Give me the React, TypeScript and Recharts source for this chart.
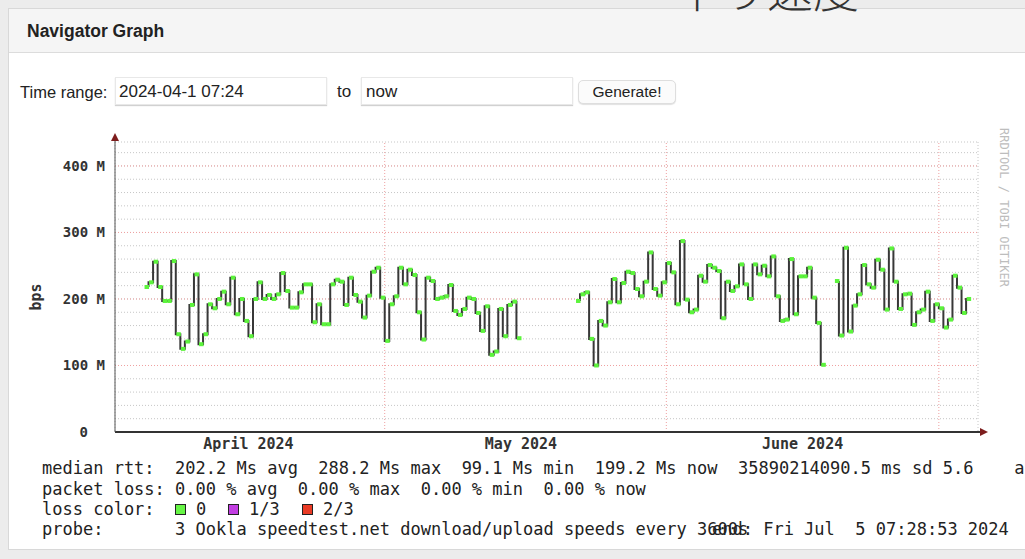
import { LineChart, Line, XAxis, YAxis, CartesianGrid, ReferenceLine } from 'recharts'

// x axis is in hours since 2024-04-01 00:00, samples every 12 hours
const START_HOUR = 7.4 // 2024-04-01 07:24
const END_HOUR = 95 * 24 + 7.48 // 2024-07-05 07:28
const STEP_HOURS = 12
const Y_MAX = 436

// download speed (M bps), one value per 12h slot
const SEG_APRIL_START = 8
const SEG_APRIL = [
  218, 225, 256, 218, 197, 197, 257, 147, 125, 136, 191, 237, 132, 147, 192, 186, 200, 211, 192,
  232, 177, 200, 167, 144, 200, 225, 200, 206, 200, 207, 239, 212, 187, 187, 210, 222, 222,
  165, 192, 162, 162, 222, 229, 226, 191, 232, 206, 196, 172, 205, 241, 247, 202, 137, 192, 204,
  247, 222, 244, 236, 180, 139, 232, 227, 200, 202, 204, 221, 182, 176, 185, 202, 200,
  179, 152, 189, 116, 121, 185, 144, 191, 196, 141,
]
const SEG_MAY_START = 103
const SEG_MAY = [
  197, 207, 210, 140, 100, 167, 160, 195, 230, 195, 224, 241, 239, 215, 204,
  226, 270, 215, 205, 225, 254, 240, 192, 287, 199, 180, 184, 235, 226, 251, 247, 242, 171, 226,
  212, 219, 252, 222, 200, 252, 237, 250, 234, 264, 204, 167, 169, 260, 177, 234, 234, 247,
  202, 164, 101,
]
const SEG_JUNE_START = 160
const SEG_JUNE = [
  227, 145, 277, 151, 190, 207, 251, 222, 217, 259, 244, 184, 276, 226, 185, 207, 208, 161, 180,
  184, 211, 167, 192, 186, 157, 169, 235, 217, 179, 200,
]

const MONTH_LABELS = ['April 2024', 'May 2024', 'June 2024']
const MONTH_LABEL_HOURS = [360, 1080, 1824]
const MONTH_START_HOURS = [720, 1464, 2184]
const Y_LABEL_TICKS = [0, 100, 200, 300, 400]

const DAY_TICKS = Array.from({ length: 95 }, (_, i) => (i + 1) * 24)
const Y_GRID_TICKS = Array.from({ length: 22 }, (_, i) => i * 20)

const SEGMENTS: [number, number[]][] = [
  [SEG_APRIL_START, SEG_APRIL],
  [SEG_MAY_START, SEG_MAY],
  [SEG_JUNE_START, SEG_JUNE],
]

function buildRows() {
  const bySlot = new Map<number, number>()
  SEGMENTS.forEach(([start, values]) => values.forEach((v, i) => bySlot.set(start + i, v)))
  const first = SEGMENTS[0][0]
  const lastSeg = SEGMENTS[SEGMENTS.length - 1]
  const last = lastSeg[0] + lastSeg[1].length - 1
  const rows: { h: number; v: number | null }[] = []
  for (let s = first; s <= last; s++) rows.push({ h: s * STEP_HOURS, v: bySlot.get(s) ?? null })
  return rows
}

const rows = buildRows()

const MONO = '"DejaVu Sans Mono", "Liberation Mono", monospace'
const SANS = '"Liberation Sans", Arial, sans-serif'

const renderBpsTick = (props: any) => {
  const { y, payload } = props
  if (!Y_LABEL_TICKS.includes(payload.value)) return <g />
  const label = payload.value === 0 ? '0' : `${payload.value} M`
  return (
    <text x={payload.value === 0 ? 88 : 105} y={y} dy={5} textAnchor="end" fontFamily={MONO} fontSize={14} fontWeight={700} fill="#333">
      {label}
    </text>
  )
}

const renderMonthTick = (props: any) => {
  const { x, index } = props
  return (
    <text x={x} y={329} textAnchor="middle" fontFamily={MONO} fontSize={15} fontWeight={700} fill="#333">
      {MONTH_LABELS[index]}
    </text>
  )
}

const renderMedian = (props: any) => {
  const { cx, cy, value, index } = props
  if (value == null || cx == null || cy == null) return <g key={index} />
  return <rect key={index} x={cx - 4} y={cy - 2} width={4.5} height={4} fill="#5cf43c" />
}

const LEGEND_BOXES = [
  { label: '0', color: '#66f545', x: 175 },
  { label: '1/3', color: '#c23ee2', x: 228 },
  { label: '2/3', color: '#ea3b25', x: 302 },
]

const textLine = (top: number, text: string, left = 42) => (
  <div
    style={{
      position: 'absolute',
      left,
      top,
      fontFamily: MONO,
      fontSize: 17,
      lineHeight: '20px',
      whiteSpace: 'pre',
      color: '#222',
    }}
  >
    {text}
  </div>
)

export default function App() {
  return (
    <div
      style={{
        position: 'absolute',
        left: 0,
        top: 0,
        width: 1025,
        height: 559,
        overflow: 'hidden',
        background: '#ececec',
        fontFamily: SANS,
        color: '#222',
      }}
    >
      {/* panel */}
      <div style={{ position: 'absolute', left: 8, top: 8, width: 1040, height: 540, background: '#fff', border: '1px solid #d8d8d8' }} />
      <div style={{ position: 'absolute', left: 9, top: 9, width: 1040, height: 43, background: '#f5f5f5', borderBottom: '1px solid #dcdcdc' }} />
      <div style={{ position: 'absolute', left: 27, top: 20, fontSize: 17.5, fontWeight: 700, lineHeight: '22px' }}>Navigator Graph</div>

      {/* heading of the page above, cut off */}
      <div
        style={{
          position: 'absolute',
          left: 675,
          top: -36,
          fontFamily: '"Noto Sans CJK JP", sans-serif',
          fontSize: 46,
          fontWeight: 300,
          lineHeight: '46px',
          color: '#333',
          whiteSpace: 'nowrap',
        }}
      >
        下り速度
      </div>

      {/* time range form */}
      <div style={{ position: 'absolute', left: 20, top: 82, fontSize: 16.5, lineHeight: '20px' }}>Time range:</div>
      <div style={{ position: 'absolute', left: 115, top: 77, width: 212, height: 28, background: '#fff', border: '1px solid #e8e8e8', boxShadow: '0 1px 1px rgba(0,0,0,0.18)', boxSizing: 'border-box' }} />
      <div style={{ position: 'absolute', left: 119, top: 81, fontSize: 17, lineHeight: '22px' }}>2024-04-1 07:24</div>
      <div style={{ position: 'absolute', left: 337, top: 81, fontSize: 17, lineHeight: '22px' }}>to</div>
      <div style={{ position: 'absolute', left: 361, top: 77, width: 212, height: 28, background: '#fff', border: '1px solid #e8e8e8', boxShadow: '0 1px 1px rgba(0,0,0,0.18)', boxSizing: 'border-box' }} />
      <div style={{ position: 'absolute', left: 366, top: 81, fontSize: 17, lineHeight: '22px' }}>now</div>
      <div
        style={{
          position: 'absolute',
          left: 578,
          top: 80,
          width: 98,
          height: 24,
          boxSizing: 'border-box',
          border: '1px solid #dedede',
          borderRadius: 5,
          background: '#fbfbfb',
          boxShadow: '0 1px 1px rgba(0,0,0,0.12)',
          fontSize: 15.5,
          lineHeight: '22px',
          textAlign: 'center',
        }}
      >
        Generate!
      </div>

      {/* rrd graph */}
      <div style={{ position: 'absolute', left: 0, top: 120 }}>
        <LineChart width={1000} height={340} data={rows} margin={{ top: 22, right: 22, left: 0, bottom: 0 }}>
          <CartesianGrid stroke="#c6c6c6" strokeDasharray="1 2" />
          <XAxis
            xAxisId="lab"
            dataKey="h"
            type="number"
            domain={[START_HOUR, END_HOUR]}
            ticks={MONTH_LABEL_HOURS}
            tick={renderMonthTick}
            tickLine={false}
            axisLine={{ stroke: '#333', strokeWidth: 2 }}
            height={28}
            interval={0}
          />
          <XAxis
            dataKey="h"
            type="number"
            domain={[START_HOUR, END_HOUR]}
            ticks={DAY_TICKS}
            tick={false}
            tickLine={false}
            axisLine={false}
            height={0}
            interval={0}
          />
          <YAxis
            type="number"
            domain={[0, Y_MAX]}
            ticks={Y_GRID_TICKS}
            tick={renderBpsTick}
            tickLine={false}
            axisLine={{ stroke: '#555' }}
            width={115}
            interval={0}
          />
          {MONTH_START_HOURS.map((h) => (
            <ReferenceLine key={h} x={h} stroke="#efa0a0" strokeDasharray="1 2" />
          ))}
          {Y_LABEL_TICKS.slice(1).map((v) => (
            <ReferenceLine key={v} y={v} stroke="#efa0a0" strokeDasharray="1 2" />
          ))}
          <Line
            type="stepBefore"
            dataKey="v"
            stroke="#383838"
            strokeWidth={2}
            dot={renderMedian}
            activeDot={false}
            connectNulls={false}
            isAnimationActive={false}
          />
        </LineChart>
      </div>

      {/* axis arrows and side credit */}
      <svg width={1025} height={559} style={{ position: 'absolute', left: 0, top: 0, pointerEvents: 'none' }}>
        <line x1={115} y1={137} x2={115} y2={142} stroke="#555" />
        <polygon points="115,133 111,141 119,141" fill="#7d1d1d" />
        <line x1={978} y1={432} x2={982} y2={432} stroke="#333" strokeWidth={2} />
        <polygon points="988,432 980,428 980,436" fill="#7d1d1d" />
        <text transform="translate(1000,128) rotate(90)" fontFamily={MONO} fontSize={12} fill="#bdbdbd">
          RRDTOOL / TOBI OETIKER
        </text>
        <text transform="translate(41,297) rotate(-90)" textAnchor="middle" fontFamily={MONO} fontSize={15} fontWeight={700} fill="#333">
          bps
        </text>
      </svg>

      {/* rrd legend */}
      {textLine(458, 'median rtt:  202.2 Ms avg  288.2 Ms max  99.1 Ms min  199.2 Ms now  35890214090.5 ms sd 5.6    a')}
      {textLine(479, 'packet loss: 0.00 % avg  0.00 % max  0.00 % min  0.00 % now')}
      {textLine(499, 'loss color:')}
      {LEGEND_BOXES.map((b) => (
        <div key={b.label}>
          <div style={{ position: 'absolute', left: b.x, top: 504, width: 11, height: 11, boxSizing: 'border-box', border: '1px solid #222', background: b.color }} />
          {textLine(499, b.label, b.x + 21)}
        </div>
      ))}
      {textLine(519, 'probe:       3 Ookla speedtest.net download/upload speeds every 3600s')}
      {textLine(519, 'end: Fri Jul  5 07:28:53 2024', 712)}
    </div>
  )
}
